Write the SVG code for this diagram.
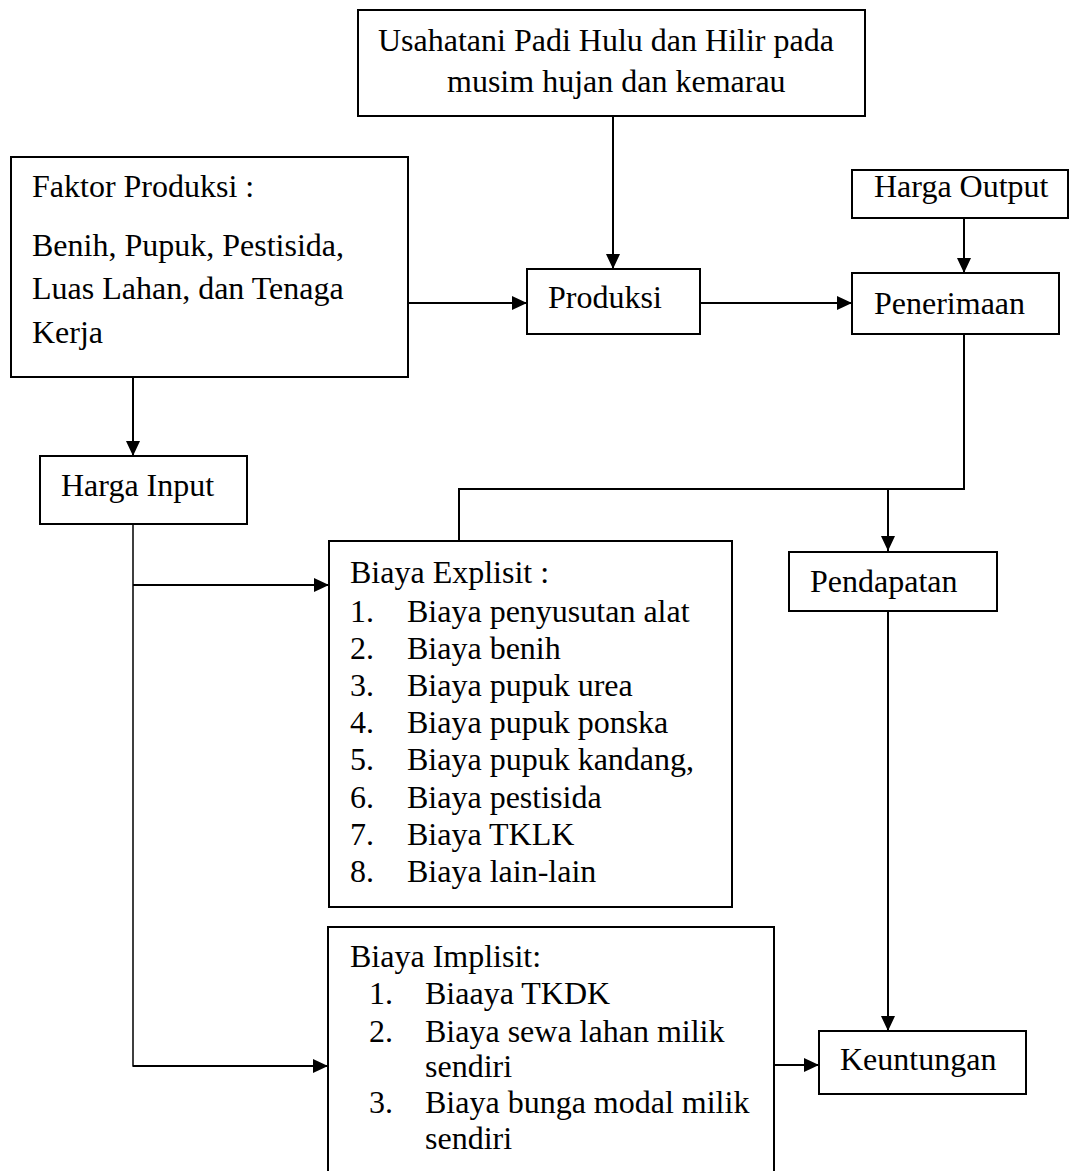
<svg xmlns="http://www.w3.org/2000/svg" width="1070" height="1171" viewBox="0 0 1070 1171">
<style>
.box{fill:#fff;stroke:#000;stroke-width:2}
.t{font-family:"Liberation Serif","Times New Roman",serif;font-size:32px;fill:#000}
.c{fill:none;stroke:#000;stroke-width:2}
.thin{fill:none;stroke:#000;stroke-width:1.5}
</style>
<defs>
<marker id="ah" viewBox="0 0 15 14" refX="15" refY="7" markerWidth="15" markerHeight="14" markerUnits="userSpaceOnUse" orient="auto">
<path d="M0,0 L15,7 L0,14 Z" fill="#000"/>
</marker>
</defs>
<rect width="1070" height="1171" fill="#fff"/>
<g id="connectors">
<line class="c" x1="613" y1="116" x2="613" y2="269" marker-end="url(#ah)"/>
<line class="c" x1="408" y1="303" x2="527" y2="303" marker-end="url(#ah)"/>
<line class="c" x1="700" y1="303" x2="852" y2="303" marker-end="url(#ah)"/>
<line class="c" x1="964" y1="218" x2="964" y2="273" marker-end="url(#ah)"/>
<line class="c" x1="133" y1="377" x2="133" y2="456" marker-end="url(#ah)"/>
<polyline class="c" points="964,334 964,489 888,489 888,551" marker-end="url(#ah)"/>
<polyline class="c" points="888,489 459,489 459,541"/>
<polyline class="thin" points="133,524 133,1066 180,1066"/>
<line class="c" x1="133" y1="1066" x2="328" y2="1066" marker-end="url(#ah)"/>
<line class="c" x1="133" y1="585" x2="329" y2="585" marker-end="url(#ah)"/>
<line class="c" x1="888" y1="611" x2="888" y2="1031" marker-end="url(#ah)"/>
<line class="c" x1="774" y1="1065" x2="819" y2="1065" marker-end="url(#ah)"/>
</g>
<g id="usahatani">
<rect class="box" x="358" y="10" width="507" height="106"/>
<text class="t" x="378" y="51">Usahatani Padi Hulu dan Hilir pada</text>
<text class="t" x="447" y="92">musim hujan dan kemarau</text>
</g>
<g id="faktor-produksi">
<rect class="box" x="11" y="157" width="397" height="220"/>
<text class="t" x="32" y="197">Faktor Produksi :</text>
<text class="t" x="32" y="256">Benih, Pupuk, Pestisida,</text>
<text class="t" x="32" y="299">Luas Lahan, dan Tenaga</text>
<text class="t" x="32" y="343">Kerja</text>
</g>
<g id="produksi">
<rect class="box" x="527" y="269" width="173" height="65"/>
<text class="t" x="548" y="308">Produksi</text>
</g>
<g id="harga-output">
<rect class="box" x="852" y="170" width="216" height="48"/>
<text class="t" x="874" y="197">Harga Output</text>
</g>
<g id="penerimaan">
<rect class="box" x="852" y="273" width="207" height="61"/>
<text class="t" x="874" y="314">Penerimaan</text>
</g>
<g id="harga-input">
<rect class="box" x="40" y="456" width="207" height="68"/>
<text class="t" x="61" y="496">Harga Input</text>
</g>
<g id="pendapatan">
<rect class="box" x="789" y="552" width="208" height="59"/>
<text class="t" x="810" y="592">Pendapatan</text>
</g>
<g id="biaya-explisit">
<rect class="box" x="329" y="541" width="403" height="366"/>
<text class="t" x="350" y="583">Biaya Explisit :</text>
<text class="t" x="350" y="622">1.</text><text class="t" x="407" y="622">Biaya penyusutan alat</text>
<text class="t" x="350" y="659">2.</text><text class="t" x="407" y="659">Biaya benih</text>
<text class="t" x="350" y="696">3.</text><text class="t" x="407" y="696">Biaya pupuk urea</text>
<text class="t" x="350" y="733">4.</text><text class="t" x="407" y="733">Biaya pupuk ponska</text>
<text class="t" x="350" y="770">5.</text><text class="t" x="407" y="770">Biaya pupuk kandang,</text>
<text class="t" x="350" y="808">6.</text><text class="t" x="407" y="808">Biaya pestisida</text>
<text class="t" x="350" y="845">7.</text><text class="t" x="407" y="845">Biaya TKLK</text>
<text class="t" x="350" y="882">8.</text><text class="t" x="407" y="882">Biaya lain-lain</text>
</g>
<g id="biaya-implisit">
<rect class="box" x="328" y="927" width="446" height="260"/>
<text class="t" x="350" y="967">Biaya Implisit:</text>
<text class="t" x="369" y="1004">1.</text><text class="t" x="425" y="1004">Biaaya TKDK</text>
<text class="t" x="369" y="1042">2.</text><text class="t" x="425" y="1042">Biaya sewa lahan milik</text>
<text class="t" x="425" y="1077">sendiri</text>
<text class="t" x="369" y="1113">3.</text><text class="t" x="425" y="1113">Biaya bunga modal milik</text>
<text class="t" x="425" y="1149">sendiri</text>
</g>
<g id="keuntungan">
<rect class="box" x="819" y="1031" width="207" height="63"/>
<text class="t" x="840" y="1070">Keuntungan</text>
</g>
</svg>
